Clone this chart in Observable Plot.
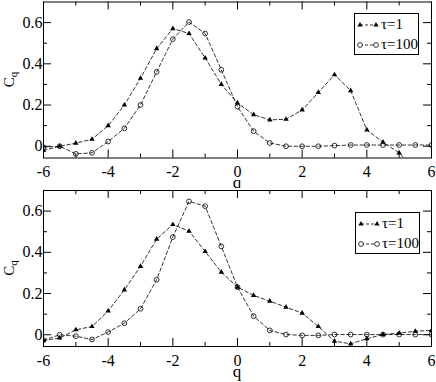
<!DOCTYPE html>
<html><head><meta charset="utf-8">
<script src="https://cdn.jsdelivr.net/npm/d3@7"></script>
<script src="https://cdn.jsdelivr.net/npm/@observablehq/plot@0.6"></script>
<style>
body{margin:0;background:#fff;}
#wrap{position:relative;width:436px;height:382px;font-family:"Liberation Serif",serif;background:#fff;}
.panel{position:absolute;left:0;}
.legend{position:absolute;border:1px solid #000;background:#fff;font-size:15px;line-height:1;box-sizing:border-box;font-family:"Liberation Serif",serif;}
.legend .row{position:absolute;left:0;height:14px;white-space:nowrap;}
.legend svg{position:absolute;left:0;top:0;}
.legend span{position:absolute;left:26px;top:-1px;}
</style></head><body><div id="wrap"></div>
<script>
// q values (x positions of the data points)
const q = [-6,-5.5,-5,-4.5,-4,-3.5,-3,-2.5,-2,-1.5,-1,-0.5,0,0.5,1,1.5,2,2.5,3,3.5,4,4.5,5,5.5,6];

// Top panel
const topTau1   = [-0.02,0.00,0.015,0.034,0.10,0.20,0.33,0.474,0.571,0.547,0.428,0.30,0.21,0.153,0.128,0.131,0.176,0.261,0.347,0.27,0.079,0.02,-0.032,-0.11,-0.15];
const topTau100 = [-0.005,0.0,-0.037,-0.032,0.023,0.087,0.20,0.361,0.52,0.603,0.547,0.371,0.192,0.073,0.016,0.0,0.0,0.0,0.003,0.006,0.006,0.006,0.006,0.006,0.006];

// Bottom panel
const botTau1   = [-0.028,-0.016,0.024,0.04,0.115,0.218,0.332,0.464,0.535,0.503,0.404,0.304,0.231,0.191,0.163,0.134,0.105,0.04,-0.031,-0.044,-0.019,0.001,0.008,0.017,0.021];
const botTau100 = [-0.026,0.0,-0.007,-0.023,0.013,0.056,0.126,0.267,0.474,0.647,0.624,0.429,0.231,0.09,0.021,0.001,-0.003,-0.003,0.001,0.001,0.001,0.001,0.001,0.001,0.001];

// Axes
const xDomain = [-6, 6];
const yDomain = [-0.057, 0.7];
const xMajor = [-6,-4,-2,0,2,4,6];
const xMinor = [-5,-3,-1,1,3,5];
const yMajor = [0,0.2,0.4,0.6];
const yMinor = [0.1,0.3,0.5];
const seriesNames = ["τ=1","τ=100"];
const xLabel = "q";
const yLabelMain = "C", yLabelSub = "q";

const FONT = "'Liberation Serif', serif";
const wrap = d3.select("#wrap");

function panel(t1, t100, cfg) {
  const rows = q.map((x, i) => ({q: x, a: t1[i], b: t100[i]}));
  const mL = 43, mR = 5;
  const W = 436 - mL - mR;
  const H = cfg.height - cfg.mTop - cfg.mBottom;
  const MJ = 8, MN = 4;
  const chart = Plot.plot({
    width: 436, height: cfg.height,
    marginLeft: mL, marginRight: mR, marginTop: cfg.mTop, marginBottom: cfg.mBottom,
    style: {fontFamily: FONT, fontSize: "16px", background: "white", color: "black", overflow: "visible"},
    x: {domain: xDomain, ticks: xMajor, tickSize: 0, tickPadding: 8, label: null, tickFormat: d => String(d)},
    y: {domain: yDomain, ticks: yMajor, tickSize: 0, tickPadding: 1, label: null, tickFormat: d => d === 0 ? "0" : d.toFixed(1)},
    marks: [
      Plot.tickX(xMajor, {x: d => d, insetTop: H - MJ, stroke: "black"}),
      Plot.tickX(xMajor, {x: d => d, insetBottom: H - MJ, stroke: "black"}),
      Plot.tickX(xMinor, {x: d => d, insetTop: H - MN, stroke: "black"}),
      Plot.tickX(xMinor, {x: d => d, insetBottom: H - MN, stroke: "black"}),
      Plot.tickY(yMajor, {y: d => d, insetRight: W - MJ, stroke: "black"}),
      Plot.tickY(yMajor, {y: d => d, insetLeft: W - MJ, stroke: "black"}),
      Plot.tickY(yMinor, {y: d => d, insetRight: W - MN, stroke: "black"}),
      Plot.tickY(yMinor, {y: d => d, insetLeft: W - MN, stroke: "black"}),
      Plot.line(rows, {x: "q", y: "a", stroke: "black", strokeWidth: 0.8, strokeDasharray: "3.5,2.5", clip: true}),
      Plot.line(rows, {x: "q", y: "b", stroke: "black", strokeWidth: 0.8, strokeDasharray: "3.5,2.5", clip: true}),
      Plot.dot(rows, {x: "q", y: "a", symbol: "triangle", r: 2, fill: "black", stroke: "none", clip: true}),
      Plot.dot(rows, {x: "q", y: "b", symbol: "circle", r: 2.4, fill: "none", stroke: "black", strokeWidth: 0.8, clip: true}),
      Plot.frame({stroke: "black"})
    ]
  });
  const svg = d3.select(chart);
  const cx = mL + W / 2;
  svg.append("text")
    .attr("x", cx).attr("y", cfg.mTop + H + cfg.qOff)
    .attr("text-anchor", "middle").attr("font-size", 17).attr("fill", "black")
    .attr("font-family", FONT).text(xLabel);
  const cy = cfg.mTop + H / 2;
  const t = svg.append("text")
    .attr("transform", `translate(13.5,${cy}) rotate(-90)`)
    .attr("text-anchor", "middle").attr("font-size", 15).attr("fill", "black")
    .attr("font-family", FONT);
  t.append("tspan").text(yLabelMain);
  t.append("tspan").attr("font-size", 11).attr("dy", 3).text(yLabelSub);

  const div = wrap.append("div").attr("class", "panel").style("top", cfg.top + "px");
  div.node().appendChild(chart);

  // legend
  const lg = wrap.append("div").attr("class", "legend")
    .style("left", cfg.lgLeft + "px").style("top", cfg.lgTop + "px")
    .style("width", "65px").style("height", "42px");
  seriesNames.forEach((name, i) => {
    const row = lg.append("div").attr("class", "row").style("top", (4 + i * 20) + "px").style("width", "64px");
    const s = row.append("svg").attr("width", 26).attr("height", 14);
    s.append("line").attr("x1", 5).attr("x2", 21).attr("y1", 7).attr("y2", 7)
      .attr("stroke", "black").attr("stroke-width", 0.8).attr("stroke-dasharray", "3,2");
    [5, 21].forEach(x => {
      if (i === 0) s.append("path").attr("d", d3.symbol(d3.symbolTriangle, 12)()).attr("transform", `translate(${x},7)`).attr("fill", "black");
      else s.append("circle").attr("cx", x).attr("cy", 7).attr("r", 2.4).attr("fill", "white").attr("stroke", "black").attr("stroke-width", 0.8);
    });
    row.append("span").text(name);
  });
}

panel(topTau1, topTau100, {top: 0, height: 188, mTop: 1.5, mBottom: 30.5, qOff: 30, lgLeft: 354, lgTop: 13});
panel(botTau1, botTau100, {top: 188, height: 194, mTop: 2, mBottom: 36, qOff: 31, lgLeft: 355, lgTop: 212});
</script>
</body></html>
